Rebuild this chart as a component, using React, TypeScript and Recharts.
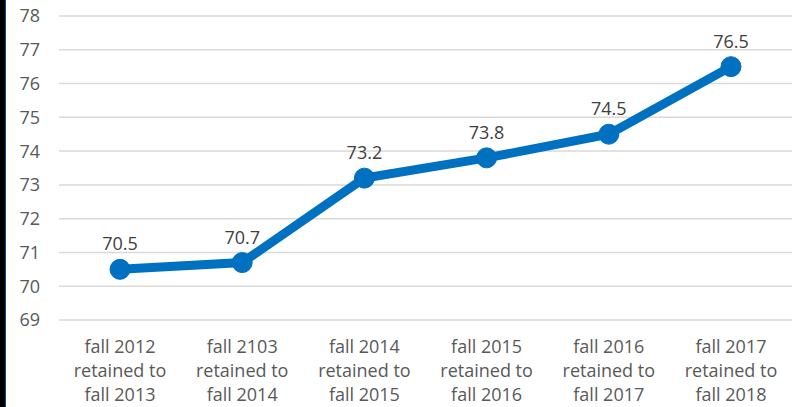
import { LineChart, Line, XAxis, YAxis, CartesianGrid, LabelList } from 'recharts'

const categories = [
  'fall 2012\nretained to\nfall 2013',
  'fall 2103\nretained to\nfall 2014',
  'fall 2014\nretained to\nfall 2015',
  'fall 2015\nretained to\nfall 2016',
  'fall 2016\nretained to\nfall 2017',
  'fall 2017\nretained to\nfall 2018',
]
const retention = [70.5, 70.7, 73.2, 73.8, 74.5, 76.5]
const yTicks = [69, 70, 71, 72, 73, 74, 75, 76, 77, 78]

const data = categories.map((c, i) => ({ name: c, value: retention[i] }))

const FONT = '"Open Sans", sans-serif'

function CategoryTick(props: any) {
  const { x, y, payload } = props
  const lines = String(payload.value).split('\n')
  return (
    <text x={x} y={y} textAnchor="middle" fill="#595959" fontSize={18} fontFamily={FONT}>
      {lines.map((l, i) => (
        <tspan key={i} x={x} dy={i === 0 ? 25 : 24}>
          {l}
        </tspan>
      ))}
    </text>
  )
}

export default function App() {
  return (
    <div style={{ position: 'fixed', left: 0, top: 0, width: 803, height: 407, background: '#fff' }}>
      <div
        style={{
          position: 'absolute',
          left: 0,
          top: 0,
          width: 5,
          height: 407,
          background: '#000',
          borderRight: '1px solid #0a4f8a',
        }}
      />
      <LineChart width={803} height={407} data={data} margin={{ top: 16, right: 11, bottom: 0, left: 0 }}>
        <CartesianGrid vertical={false} stroke="#d9d9d9" strokeWidth={1.5} />
        <XAxis
          dataKey="name"
          axisLine={false}
          tickLine={false}
          height={87}
          interval={0}
          padding={{ left: 61, right: 61 }}
          tick={<CategoryTick />}
        />
        <YAxis
          width={59}
          domain={[69, 78]}
          ticks={yTicks}
          axisLine={false}
          tickLine={false}
          tickMargin={13}
          tick={{ fill: '#595959', fontSize: 18, fontFamily: FONT }}
        />
        <Line
          type="linear"
          dataKey="value"
          stroke="#0070c0"
          strokeWidth={9}
          dot={{ r: 10, fill: '#0070c0', stroke: '#0070c0', strokeWidth: 1 }}
          activeDot={false}
          isAnimationActive={false}
        >
          <LabelList
            dataKey="value"
            position="top"
            offset={19}
            fill="#404040"
            fontSize={18}
            fontFamily={FONT}
          />
        </Line>
      </LineChart>
    </div>
  )
}
